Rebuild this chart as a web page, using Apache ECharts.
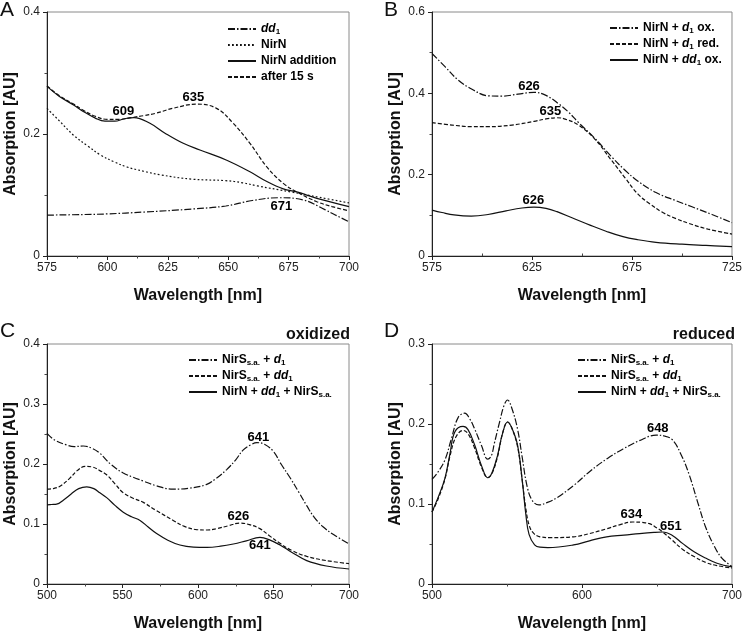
<!DOCTYPE html>
<html><head><meta charset="utf-8">
<script src="https://cdn.jsdelivr.net/npm/echarts@6/dist/echarts.min.js"></script>
<style>html,body{margin:0;padding:0;background:#fff}#c{width:745px;height:633px}</style>
</head><body><div id="c"></div>
<script>
// ---------- Panel A (575-700 nm) ----------
const A_dd1 = [[575,0.067],[590,0.068],[600,0.069],[615,0.072],[635,0.077],[649,0.082],[660,0.091],[671,0.0955],[681,0.092],[690,0.076],[695,0.066],[700,0.056]];
const A_NirN = [[575,0.242],[580,0.222],[586,0.198],[592,0.180],[597,0.166],[603,0.154],[608,0.146],[615,0.139],[622,0.133],[635,0.126],[649,0.1235],[656,0.120],[662,0.115],[676,0.105],[688,0.096],[700,0.087]];
const A_add = [[575,0.278],[580,0.262],[586,0.2475],[590,0.237],[595,0.226],[599,0.221],[603,0.221],[607,0.225],[611,0.227],[617.6,0.2175],[624,0.201],[631.4,0.1847],[638.3,0.1738],[649.4,0.157],[659,0.138],[666,0.122],[672.8,0.110],[678.4,0.105],[686.7,0.0945],[700,0.081]];
const A_15s = [[575,0.279],[580,0.263],[586,0.249],[590,0.239],[595,0.229],[600,0.224],[605,0.224],[610,0.227],[615,0.230],[620,0.234],[627,0.242],[637,0.249],[645.2,0.242],[652.1,0.2175],[659,0.1847],[666,0.146],[672.8,0.119],[678.4,0.105],[686.7,0.089],[693,0.081],[700,0.074]];
const A_peaks = [[606.6,0.237,'609'],[635.6,0.260,'635'],[672,0.081,'671']];

// ---------- Panel B (575-725 nm) ----------
const B_d1ox = [[575,0.498],[581.5,0.4655],[588,0.433],[595,0.410],[603,0.394],[610,0.393],[618,0.398],[626,0.4025],[632,0.395],[638.4,0.374],[643,0.355],[648.3,0.328],[656.5,0.289],[664.8,0.244],[671.4,0.2115],[678,0.184],[687,0.156],[697,0.136],[705,0.121],[715,0.102],[725,0.082]];
const B_d1red = [[575,0.328],[585,0.322],[595,0.318],[603,0.318],[615,0.322],[626,0.331],[632,0.337],[637.5,0.340],[642,0.336],[648.3,0.322],[656.5,0.287],[664.8,0.235],[671.4,0.193],[678,0.152],[684,0.128],[690,0.108],[697,0.092],[703.5,0.080],[713,0.066],[725,0.054]];
const B_dd1ox = [[575,0.113],[580,0.107],[586,0.101],[594.6,0.098],[603,0.102],[612,0.111],[620,0.118],[626,0.120],[632,0.117],[637.5,0.109],[645,0.094],[654,0.076],[662,0.061],[670.5,0.0475],[678,0.040],[687,0.0337],[700,0.029],[712,0.026],[725,0.023]];
const B_peaks = [[623.5,0.418,'626'],[634.2,0.355,'635'],[625.7,0.136,'626']];
const B_xTicks = [575,625,675,725];
const B_xMinor = [600,650,700];

// ---------- Panel C oxidized (500-700 nm) ----------
const C_d1 = [[500,0.251],[505,0.240],[513,0.2317],[518,0.229],[524,0.230],[530,0.226],[535,0.218],[542,0.200],[550.5,0.185],[557,0.178],[563.8,0.1716],[572,0.164],[583.6,0.158],[595,0.160],[605.8,0.166],[612,0.176],[619,0.1907],[625,0.207],[630,0.2235],[635,0.232],[639,0.2355],[644,0.233],[650,0.2208],[655,0.200],[661,0.177],[667,0.152],[672,0.1306],[677,0.111],[683,0.095],[690,0.082],[700,0.067]];
const C_dd1 = [[500,0.158],[504,0.159],[508.6,0.163],[515,0.176],[520,0.189],[525.2,0.196],[530,0.195],[535,0.189],[539.5,0.182],[545,0.167],[550.5,0.152],[557,0.143],[563.8,0.136],[572,0.123],[583.6,0.106],[591,0.096],[599,0.0907],[606,0.090],[612.4,0.0923],[620,0.097],[627.8,0.1016],[634,0.099],[641,0.0923],[647,0.081],[654.3,0.0678],[662,0.056],[672,0.046],[685,0.039],[700,0.034]];
const C_all = [[500,0.132],[503,0.1325],[506.4,0.133],[511,0.140],[516,0.150],[521,0.159],[526.3,0.162],[531,0.159],[535,0.152],[539.5,0.144],[545,0.131],[550.5,0.1197],[556,0.112],[561.6,0.106],[567,0.095],[572.6,0.084],[580,0.073],[588,0.065],[597,0.0615],[605.8,0.061],[615,0.063],[623.4,0.0667],[632,0.072],[641,0.0776],[647,0.074],[654.3,0.065],[662,0.053],[672,0.039],[685,0.030],[700,0.025]];
const C_peaks = [[640,0.2437,'641'],[626.7,0.1126,'626'],[641,0.065,'641']];

// ---------- Panel D reduced (500-700 nm) ----------
const D_d1 = [[500,0.1307],[504,0.140],[508.6,0.155],[513,0.182],[517.4,0.208],[521.8,0.2135],[525,0.207],[528.4,0.194],[533,0.173],[537.2,0.156],[539.5,0.160],[541.6,0.176],[545,0.202],[548,0.223],[550.4,0.230],[553,0.221],[557,0.194],[560,0.160],[563.6,0.1205],[567,0.104],[571.3,0.0988],[577,0.102],[583.4,0.108],[595,0.124],[605.4,0.141],[617,0.157],[627.4,0.1688],[638,0.179],[649.4,0.186],[655,0.185],[660.4,0.180],[666,0.162],[671.4,0.137],[677,0.103],[682.4,0.0713],[688,0.048],[693.4,0.032],[700,0.022]];
const D_dd1 = [[500,0.090],[504,0.106],[508.6,0.131],[512,0.160],[516,0.184],[520.7,0.192],[524,0.188],[528.4,0.170],[533,0.146],[537.2,0.133],[540,0.138],[543.8,0.160],[547,0.188],[550.4,0.2025],[553,0.196],[557,0.172],[560,0.132],[562.5,0.095],[565,0.072],[568,0.063],[572,0.059],[579,0.058],[594.4,0.059],[605,0.063],[616.4,0.069],[625,0.074],[634,0.0775],[640,0.077],[645,0.0754],[650,0.070],[653.8,0.065],[660,0.055],[667,0.0434],[675,0.034],[682.4,0.027],[690,0.023],[700,0.020]];
const D_all = [[500,0.090],[504,0.108],[508.6,0.132],[512,0.163],[515.2,0.190],[520.7,0.197],[524,0.193],[528.4,0.174],[533,0.148],[537.2,0.1328],[540,0.139],[543.8,0.1615],[547,0.188],[550.4,0.2025],[553,0.196],[557,0.174],[560.3,0.127],[562.5,0.088],[564.7,0.062],[568.4,0.049],[572,0.046],[577.2,0.0455],[594.4,0.0488],[605,0.054],[616.4,0.059],[628,0.061],[638.4,0.063],[648,0.0645],[653.8,0.065],[660,0.061],[667,0.0508],[675,0.040],[682.4,0.0324],[690,0.026],[700,0.0213]];
const D_peaks = [[650.5,0.194,'648'],[632.9,0.0865,'634'],[659.3,0.072,'651']];

// legend labels (rich text)
const labels = {
  A1:'{i|dd}{sub|1}', A2:'NirN', A3:'NirN addition', A4:'after 15 s',
  B1:'NirN + {i|d}{sub|1} ox.', B2:'NirN + {i|d}{sub|1} red.', B3:'NirN + {i|dd}{sub|1} ox.',
  C1:'NirS{sub|s.a.} + {i|d}{sub|1}', C2:'NirS{sub|s.a.} + {i|dd}{sub|1}', C3:'NirN + {i|dd}{sub|1} + NirS{sub|s.a.}',
  D1:'NirS{sub|s.a.} + {i|d}{sub|1}', D2:'NirS{sub|s.a.} + {i|dd}{sub|1}', D3:'NirN + {i|dd}{sub|1} + NirS{sub|s.a.}'
};

const FONT = "'Liberation Sans', Arial, Helvetica, sans-serif";
const DASHDOT = [7,2,1.5,2], DOTTED = [1.8,2.2], DASHED = [4,2], SOLID = 'solid';

const grids = [
  {left:47, right:396, top:12, bottom:377},
  {left:432, right:10, top:12, bottom:377},
  {left:47, right:396, top:344, bottom:45},
  {left:432, right:10, top:344, bottom:45}
].map(g => Object.assign(g, {show:true, borderColor:'#8a8a8a', borderWidth:1, containLabel:false}));

function xAx(gi, min, max, interval, extra) {
  return Object.assign({
    type:'value', gridIndex:gi, min:min, max:max, interval:interval,
    name:'Wavelength [nm]', nameLocation:'middle', nameGap:32,
    nameTextStyle:{fontFamily:FONT, fontWeight:'bold', fontSize:16, color:'#111'},
    axisLine:{show:true, onZero:false, lineStyle:{color:'#222', width:1}},
    axisTick:{show:true, inside:false, length:4, lineStyle:{color:'#222'}},
    minorTick:{show:true, splitNumber:2, length:2.5, lineStyle:{color:'#444'}},
    axisLabel:{fontFamily:FONT, fontSize:12, color:'#222', margin:6},
    splitLine:{show:false}, minorSplitLine:{show:false}
  }, extra||{});
}
function yAx(gi, min, max, interval) {
  return {
    type:'value', gridIndex:gi, min:min, max:max, interval:interval,
    name:'Absorption [AU]', nameLocation:'middle', nameGap:28,
    nameTextStyle:{fontFamily:FONT, fontWeight:'bold', fontSize:16, color:'#111'},
    axisLine:{show:true, onZero:false, lineStyle:{color:'#222', width:1}},
    axisTick:{show:true, inside:false, length:4, lineStyle:{color:'#222'}},
    minorTick:{show:true, splitNumber:2, length:2.5, lineStyle:{color:'#444'}},
    axisLabel:{fontFamily:FONT, fontSize:12, color:'#222', margin:7},
    splitLine:{show:false}, minorSplitLine:{show:false}
  };
}

const xAxes = [
  xAx(0, 575, 700, 25),
  xAx(1, 575, 725, 25, {
    axisTick:{show:true, length:4, lineStyle:{color:'#222'}, customValues:B_xTicks},
    axisLabel:{fontFamily:FONT, fontSize:12, color:'#222', margin:6, customValues:B_xTicks},
    minorTick:{show:false}
  }),
  xAx(2, 500, 700, 50),
  xAx(3, 500, 700, 100),
  // minor ticks for panel B
  {type:'value', gridIndex:1, min:575, max:725, interval:25, axisLine:{show:false},
   axisTick:{show:true, length:2.5, lineStyle:{color:'#444'}, customValues:B_xMinor},
   axisLabel:{show:false}, splitLine:{show:false}}
];
const yAxes = [ yAx(0,0,0.4,0.2), yAx(1,0,0.6,0.2), yAx(2,0,0.4,0.1), yAx(3,0,0.3,0.1) ];

function line(name, data, gi, type) {
  return {name:name, type:'line', xAxisIndex:gi, yAxisIndex:gi, data:data,
    showSymbol:false, symbol:'none', smooth:0.4, silent:true,
    lineStyle:{color:'#111', width:1.2, type:type}, itemStyle:{color:'#111'}};
}
function peaks(data, gi) {
  return {type:'scatter', xAxisIndex:gi, yAxisIndex:gi, data:data, symbolSize:0, silent:true,
    itemStyle:{color:'#000', opacity:0},
    label:{show:true, position:'inside', formatter:p=>p.value[2], opacity:1,
      fontFamily:FONT, fontWeight:'bold', fontSize:13, color:'#000', textBorderWidth:0}};
}

const series = [
  line('A1', A_dd1, 0, DASHDOT), line('A2', A_NirN, 0, DOTTED), line('A3', A_add, 0, SOLID), line('A4', A_15s, 0, DASHED),
  line('B1', B_d1ox, 1, DASHDOT), line('B2', B_d1red, 1, DASHED), line('B3', B_dd1ox, 1, SOLID),
  line('C1', C_d1, 2, DASHDOT), line('C2', C_dd1, 2, DASHED), line('C3', C_all, 2, SOLID),
  line('D1', D_d1, 3, DASHDOT), line('D2', D_dd1, 3, DASHED), line('D3', D_all, 3, SOLID),
  peaks(A_peaks,0), peaks(B_peaks,1), peaks(C_peaks,2), peaks(D_peaks,3)
];

const rich = {
  i:{fontFamily:FONT, fontStyle:'italic', fontWeight:'bold', fontSize:12, color:'#000', lineHeight:14},
  sub:{fontFamily:FONT, fontWeight:'bold', fontSize:8, color:'#000', lineHeight:8, verticalAlign:'bottom'}
};
function legend(names, left, top) {
  return {data:names, left:left, top:top, orient:'vertical', itemWidth:28, itemHeight:12, itemGap:2,
    padding:0, selectedMode:false,
    itemStyle:{color:'rgba(0,0,0,0)', borderColor:'rgba(0,0,0,0)', borderWidth:0, opacity:0},
    formatter:n=>labels[n],
    textStyle:{fontFamily:FONT, fontWeight:'bold', fontSize:12, color:'#000', lineHeight:14, rich:rich}};
}

const txt = (t, x, y, size, weight, align) => ({type:'text', x:x, y:y, silent:true,
  style:{text:t, fontFamily:FONT, fontSize:size, fontWeight:weight, fill:'#111', textAlign:align||'left', textVerticalAlign:'middle'}});

const chart = echarts.init(document.getElementById('c'), null, {renderer:'canvas'});
chart.setOption({
  animation:false,
  backgroundColor:'#fff',
  grid:grids, xAxis:xAxes, yAxis:yAxes, series:series,
  legend:[ legend(['A1','A2','A3','A4'], 227, 22), legend(['B1','B2','B3'], 609, 21),
           legend(['C1','C2','C3'], 188, 353), legend(['D1','D2','D3'], 577, 353) ],
  graphic:[
    txt('A', 0, 10, 21, 'normal'), txt('B', 384, 10, 21, 'normal'),
    txt('C', 0, 331, 21, 'normal'), txt('D', 384, 331, 21, 'normal'),
    txt('oxidized', 350, 335, 16, 'bold', 'right'), txt('reduced', 735, 335, 16, 'bold', 'right')
  ]
});
</script></body></html>
